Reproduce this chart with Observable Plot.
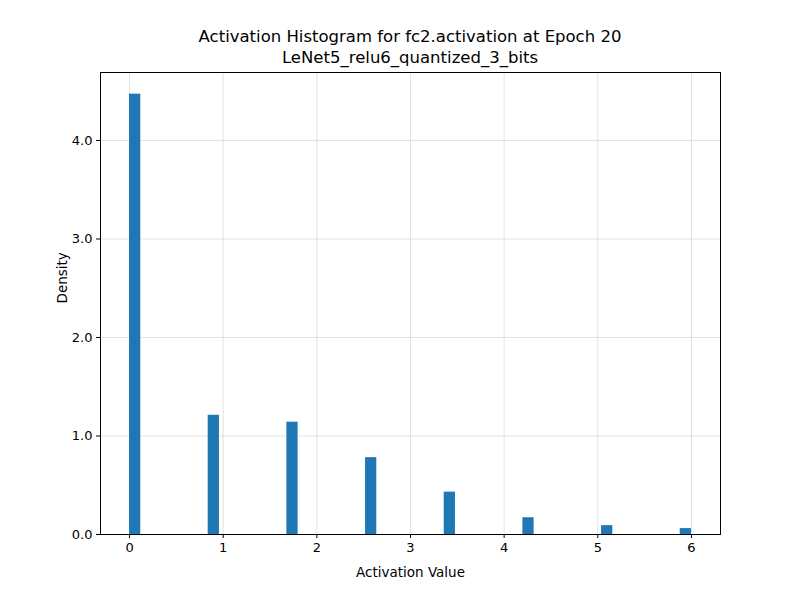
<!DOCTYPE html>
<html>
<head>
<script src="https://cdn.jsdelivr.net/npm/d3@7"></script>
<script src="https://cdn.jsdelivr.net/npm/@observablehq/plot@0.6"></script>
<style>
  body { margin: 0; background: white; font-family: "DejaVu Sans", sans-serif; }
  #wrap { position: relative; width: 800px; height: 600px; }
  #title { position: absolute; top: 26px; left: 100px; width: 620px; text-align: center;
           font-size: 16.5px; line-height: 21px; color: #000; }
</style>
</head>
<body>
<div id="wrap">
  <div id="title">Activation Histogram for fc2.activation at Epoch 20<br>LeNet5_relu6_quantized_3_bits</div>
  <div id="chart"></div>
</div>
<script>
// histogram bins (bin width 0.12 over [0, 6])
const binStart = [0, 0.84, 1.68, 2.52, 3.36, 4.20, 5.04, 5.88];
const binWidth = 0.12;
const density = [4.47, 1.21, 1.14, 0.78, 0.43, 0.17, 0.09, 0.06];

const xTicks = [0, 1, 2, 3, 4, 5, 6];
const yTicks = [0, 1, 2, 3, 4];

const bins = binStart.map((s, i) => ({ x1: s, x2: s + binWidth, y: density[i] }));

const chart = Plot.plot({
  width: 800,
  height: 600,
  marginTop: 72,
  marginBottom: 66,
  marginLeft: 100,
  marginRight: 80,
  x: { domain: [-0.31, 6.31], ticks: xTicks, label: null },
  y: { domain: [0, 4.69], ticks: yTicks, label: null },
  style: { fontFamily: "DejaVu Sans, sans-serif", fontSize: "13px", color: "#000" },
  marks: [
    Plot.gridX(xTicks, { stroke: "#b0b0b0", strokeOpacity: 0.35 }),
    Plot.gridY(yTicks, { stroke: "#b0b0b0", strokeOpacity: 0.35 }),
    Plot.rectY(bins, { x1: "x1", x2: "x2", y: "y", fill: "#1f77b4" }),
    Plot.axisX(xTicks, { tickSize: 4, tickPadding: 4, fontSize: 13 }),
    Plot.axisY(yTicks, { tickSize: 4, tickPadding: 4, fontSize: 13 }),
    Plot.frame({ stroke: "#000" }),
    Plot.text(["Activation Value"], { frameAnchor: "bottom", dy: 42, fontSize: 13.5 }),
    Plot.text(["Density"], { frameAnchor: "left", dx: -38, rotate: -90, fontSize: 13.5 })
  ]
});
document.getElementById("chart").append(chart);
</script>
</body>
</html>
